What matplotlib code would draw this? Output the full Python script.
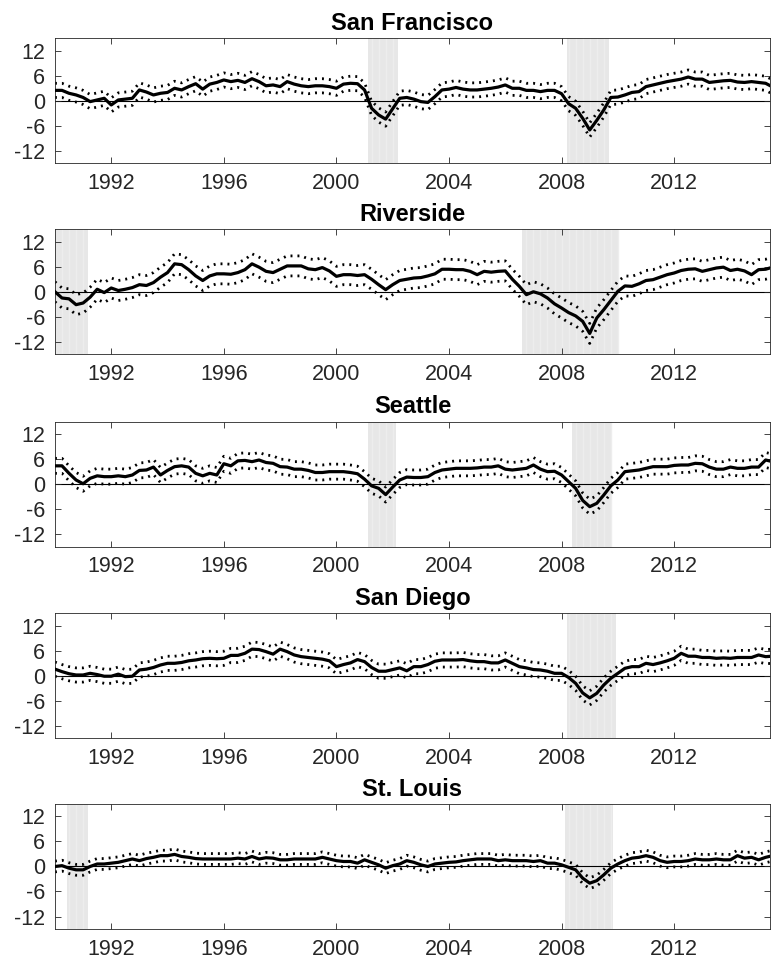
import numpy as np
import matplotlib
matplotlib.use("Agg")
import matplotlib.pyplot as plt

plt.rcParams['font.family'] = ['Liberation Sans', 'DejaVu Sans']
plt.rcParams['axes.unicode_minus'] = False

# ---------------- data ----------------
start_year = 1990.0
n_quarters = 103
dates = start_year + 0.25 * np.arange(n_quarters)

cities = ["San Francisco", "Riverside", "Seattle", "San Diego", "St. Louis"]

san_francisco = [
    2.5, 2.5, 1.8, 1.4, 0.8, -0.2, 0.2, 0.6, -1.0, 0.2, 0.4, 0.6,
    2.6, 2.1, 1.4, 1.8, 2.0, 3.0, 2.6, 3.4, 4.1, 2.8, 4.0, 4.4,
    5.0, 4.6, 4.9, 4.4, 5.3, 4.6, 3.6, 3.8, 3.4, 4.6, 4.0, 3.6,
    3.4, 3.6, 3.6, 3.4, 3.0, 4.0, 4.2, 4.1, 2.6, -1.8, -3.4, -4.4,
    -1.9, 0.6, 0.8, 0.4, -0.2, -0.4, 1.0, 2.6, 2.8, 3.2, 2.8, 2.6,
    2.6, 2.8, 3.0, 3.3, 3.8, 3.0, 3.0, 2.5, 2.5, 2.2, 2.5, 2.5,
    1.7, -0.7, -1.8, -4.2, -7.0, -4.7, -2.2, 0.8, 0.9, 1.4, 2.0, 2.2,
    3.4, 3.8, 4.2, 4.6, 4.9, 5.2, 5.7, 5.2, 5.2, 4.4, 4.6, 4.8,
    4.9, 4.5, 4.4, 4.6, 4.4, 4.2, 3.3]

riverside = [
    0.0, -1.5, -1.7, -3.1, -2.7, -1.3, 0.6, -0.2, 0.9, 0.3, 0.6, 1.0,
    1.7, 1.5, 2.2, 3.5, 4.6, 6.7, 6.5, 5.3, 3.8, 2.7, 3.8, 4.3,
    4.3, 4.2, 4.6, 5.3, 6.7, 5.9, 4.9, 4.6, 5.4, 6.2, 6.2, 6.2,
    5.5, 5.3, 5.8, 5.0, 3.7, 4.1, 4.1, 3.9, 4.1, 3.0, 1.7, 0.5,
    1.7, 2.7, 3.0, 3.3, 3.4, 3.8, 4.3, 5.4, 5.4, 5.3, 5.3, 4.9,
    4.1, 4.9, 4.7, 4.9, 5.0, 3.0, 1.3, -0.7, 0.0, -0.5, -1.5, -2.9,
    -3.9, -5.0, -5.8, -7.1, -10.0, -6.3, -4.3, -2.1, 0.1, 1.4, 1.3, 1.9,
    2.7, 2.9, 3.5, 4.1, 4.5, 5.1, 5.4, 5.5, 4.9, 5.3, 5.7, 5.9,
    5.1, 5.4, 5.0, 4.1, 5.3, 5.4, 5.9]

seattle = [
    4.4, 4.4, 2.6, 1.0, 0.1, 1.4, 2.0, 1.8, 1.8, 2.0, 1.8, 2.2,
    3.3, 3.4, 4.1, 2.2, 3.3, 4.2, 4.4, 4.1, 2.6, 2.0, 2.6, 2.2,
    4.9, 4.4, 5.6, 5.7, 5.4, 5.8, 5.2, 5.0, 4.2, 4.1, 3.6, 3.6,
    3.3, 2.8, 2.8, 3.0, 3.0, 3.0, 2.8, 2.5, 1.2, -0.4, -1.0, -2.5,
    -0.7, 1.0, 1.7, 1.6, 1.6, 1.8, 2.8, 3.4, 3.6, 3.8, 3.8, 3.8,
    3.9, 4.1, 4.1, 4.4, 3.6, 3.4, 3.6, 3.8, 4.6, 3.6, 3.0, 3.1,
    2.2, 0.6, -1.0, -3.9, -5.4, -4.6, -2.6, -0.4, 1.0, 3.0, 3.2, 3.4,
    3.8, 4.2, 4.2, 4.2, 4.5, 4.6, 4.6, 5.0, 4.9, 4.1, 3.6, 3.6,
    4.1, 3.8, 3.8, 4.1, 4.1, 5.8, 5.4]

san_diego = [
    1.6, 1.0, 0.5, 0.2, 0.2, 0.6, 0.3, -0.1, -0.1, 0.4, -0.2, -0.1,
    1.4, 1.6, 2.0, 2.6, 3.0, 3.0, 3.2, 3.6, 3.8, 4.1, 4.2, 4.1,
    4.2, 4.9, 4.9, 5.4, 6.4, 6.3, 5.8, 5.2, 6.4, 5.8, 5.0, 4.6,
    4.4, 4.2, 4.0, 3.6, 2.2, 2.7, 3.1, 3.9, 3.4, 2.0, 1.1, 1.1,
    1.5, 1.9, 1.2, 2.2, 2.2, 2.7, 3.5, 3.8, 3.8, 3.8, 3.9, 3.6,
    3.4, 3.4, 3.1, 3.1, 3.8, 3.0, 2.2, 1.9, 1.5, 1.4, 1.1, 0.6,
    0.6, -0.4, -1.8, -4.1, -5.3, -4.2, -2.2, -0.6, 0.6, 1.8, 2.2, 2.2,
    3.0, 2.7, 3.1, 3.6, 4.2, 5.4, 4.7, 4.7, 4.4, 4.4, 4.2, 4.3,
    4.2, 4.4, 4.4, 4.4, 5.0, 4.6, 4.7]

st_louis = [
    0.0, 0.2, -0.4, -0.8, -0.8, 0.0, 0.6, 0.6, 0.8, 1.0, 1.4, 1.8,
    1.4, 1.9, 2.2, 2.6, 2.6, 2.9, 2.4, 2.2, 1.9, 1.8, 1.8, 1.8,
    1.8, 1.8, 2.0, 1.8, 2.4, 1.8, 2.1, 2.0, 1.6, 1.6, 1.8, 1.8,
    1.8, 1.8, 2.2, 1.8, 1.4, 1.2, 1.2, 0.8, 1.6, 1.0, 0.4, -0.4,
    0.2, 0.6, 1.4, 1.0, 0.4, 0.0, 0.6, 0.8, 1.0, 1.1, 1.4, 1.6,
    1.8, 1.8, 1.8, 1.4, 1.6, 1.4, 1.4, 1.4, 1.2, 1.4, 0.8, 0.8,
    0.4, -0.2, -0.8, -2.8, -4.0, -3.4, -2.0, -0.4, 0.6, 1.4, 2.0, 2.2,
    2.6, 2.2, 1.4, 1.0, 1.2, 1.2, 1.4, 1.8, 1.6, 1.6, 1.8, 1.6,
    1.6, 2.6, 2.0, 2.2, 1.6, 2.2, 2.6]

series = [san_francisco, riverside, seattle, san_diego, st_louis]

# half-width of the dotted confidence bands, read per city
ci_halfwidth = [1.7, 2.4, 1.8, 1.7, 1.3]

# shaded recession periods (decimal years)
recessions = [
    [(2001.11, 2002.18), (2008.19, 2009.69)],
    [(1989.9, 1991.17), (2006.60, 2010.02)],
    [(2001.11, 2002.10), (2008.37, 2009.77)],
    [(2008.19, 2009.94)],
    [(1990.43, 1991.17), (2008.12, 2009.83)],
]

x_ticks = [1992, 1996, 2000, 2004, 2008, 2012]
y_ticks = [-12, -6, 0, 6, 12]
y_tick_labels = ["-12", "-6", "0", "6", "12"]

# ---------------- plot ----------------
fig = plt.figure(figsize=(7.72, 9.64), dpi=100)
bottoms = [0.8306, 0.6325, 0.4329, 0.2341, 0.0363]
left, width, height = 0.0712, 0.926, 0.1297
axis_col = '#262626'
dot_style = (0, (0.7, 1.8))

for i, city in enumerate(cities):
    ax = fig.add_axes([left, bottoms[i], width, height])
    y = np.array(series[i])
    hw = ci_halfwidth[i]
    for (s, e) in recessions[i]:
        ax.axvspan(s, e, color='#e7e7e7', lw=0, zorder=0)
        for q in dates:
            if s < q < e:
                ax.axvline(q, color='#ededed', lw=1.0, zorder=0.5)
    ax.axhline(0, color='k', lw=0.8, zorder=1)
    ax.plot(dates, y + hw, color='k', lw=2.0, ls=dot_style,
            dash_capstyle='butt', zorder=2)
    ax.plot(dates, y - hw, color='k', lw=2.0, ls=dot_style,
            dash_capstyle='butt', zorder=2)
    ax.plot(dates, y, color='k', lw=2.3, zorder=3)

    ax.set_xlim(1990.0, 2015.4)
    ax.set_ylim(-15, 15)
    ax.set_xticks(x_ticks)
    ax.set_xticklabels([str(t) for t in x_ticks])
    ax.set_yticks(y_ticks)
    ax.set_yticklabels(y_tick_labels)
    ax.tick_params(direction='in', top=True, right=True, length=4,
                   width=0.6, labelsize=15.5, colors=axis_col, pad=7)
    for sp in ax.spines.values():
        sp.set_color(axis_col)
        sp.set_linewidth(0.6)
    ax.set_title(city, fontsize=17, fontweight='bold', pad=6, color='k')

fig.savefig("out.png", dpi=100)
